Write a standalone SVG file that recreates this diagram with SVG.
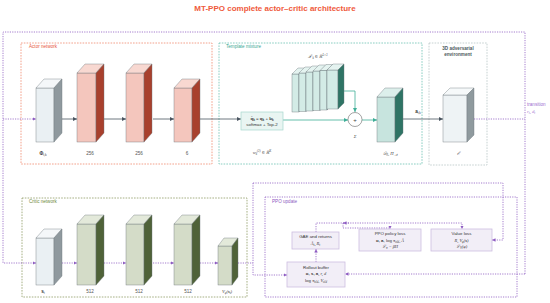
<svg xmlns="http://www.w3.org/2000/svg" width="550" height="303" viewBox="0 0 550 303">
<defs>
<style>
.t{font-family:"Liberation Sans",Arial,sans-serif}
.m{font-family:"Liberation Serif","DejaVu Serif",serif;font-style:italic}
.lbl{font-size:4.6px;fill:#555}
.grp{fill:none;stroke-width:0.8;stroke-dasharray:1.6 1.2}
.pd{fill:none;stroke:#8e5cc2;stroke-width:0.8;stroke-dasharray:1.2 1.2}
.gs{fill:none;stroke:#4a5560;stroke-width:0.8}
.ts{fill:none;stroke:#3fae98;stroke-width:0.8}
.edge{stroke:#6d767b;stroke-width:0.4}
.pbox{fill:#f2eef7;stroke:#cdbde0;stroke-width:0.8}
</style>
<marker id="ag" viewBox="0 0 6 6" refX="6" refY="3" markerWidth="4" markerHeight="4" orient="auto" markerUnits="userSpaceOnUse"><path d="M0,0 L6,3 L0,6 z" fill="#4a5560"/></marker>
<marker id="at" viewBox="0 0 6 6" refX="6" refY="3" markerWidth="4" markerHeight="4" orient="auto" markerUnits="userSpaceOnUse"><path d="M0,0 L6,3 L0,6 z" fill="#3fae98"/></marker>
<marker id="ap" viewBox="0 0 6 6" refX="6" refY="3" markerWidth="3.5" markerHeight="3.5" orient="auto" markerUnits="userSpaceOnUse"><path d="M0,0 L6,3 L0,6 z" fill="#8e5cc2"/></marker>
</defs>
<rect width="550" height="303" fill="#ffffff"/>
<text class="t" x="275" y="11" text-anchor="middle" font-size="8" font-weight="bold" fill="#ef5a3c">MT-PPO complete actor–critic architecture</text>

<!-- group boxes -->
<g id="actor-network">
<rect class="grp" x="21" y="43" width="191" height="121" stroke="#f08a70"/>
<text class="t" x="29" y="48" font-size="4.6" fill="#e8553a">Actor network</text>
</g>
<g id="template-mixture">
<rect class="grp" x="219" y="43" width="203" height="121" stroke="#6cc2b2"/>
<text class="t" x="226" y="48" font-size="4.6" fill="#3aa893">Template mixture</text>
</g>
<g id="environment-box">
<rect class="grp" x="429" y="43" width="58" height="122" stroke="#b9c6c6"/>
<text class="t" x="458" y="50" font-size="4.6" font-weight="bold" fill="#4d5a5c" text-anchor="middle">3D adversarial</text>
<text class="t" x="458" y="56" font-size="4.6" font-weight="bold" fill="#4d5a5c" text-anchor="middle">environment</text>
</g>
<g id="critic-network">
<rect class="grp" x="22" y="198" width="225" height="99" stroke="#8f9c66"/>
<text class="t" x="29" y="203" font-size="4.6" fill="#6f8a3c">Critic network</text>
</g>
<g id="ppo-update">
<rect class="pd" x="265" y="197" width="252" height="100"/>
<text class="t" x="272" y="203" font-size="4.6" fill="#8e5cc2">PPO update</text>
</g>

<!-- connectors -->
<g id="connectors">
<path class="gs" d="M62,119 H77" marker-end="url(#ag)"/>
<path class="gs" d="M104,119 H126" marker-end="url(#ag)"/>
<path class="gs" d="M153,119 H174" marker-end="url(#ag)"/>
<path class="gs" d="M200,119 H241" marker-end="url(#ag)"/>
<path class="ts" d="M283,120 H348" marker-end="url(#at)"/>
<path class="ts" d="M344,91 H355 V112" marker-end="url(#at)"/>
<path class="ts" d="M362,120 H377" marker-end="url(#at)"/>
<path class="gs" d="M403,119 H443" marker-end="url(#ag)"/>
<path class="pd" d="M474,119 H525"/>
<path class="pd" d="M525,274 V32 H3 V263 H36" marker-end="url(#ap)"/>
<path class="pd" d="M3,119 H36" marker-end="url(#ap)"/>
<path class="pd" d="M525,274 H345" marker-end="url(#ap)"/>
<path class="pd" d="M62,263 H77" marker-end="url(#ap)"/>
<path class="pd" d="M104,263 H126" marker-end="url(#ap)"/>
<path class="pd" d="M153,263 H174" marker-end="url(#ap)"/>
<path class="pd" d="M200,263 H218" marker-end="url(#ap)"/>
<path class="pd" d="M238,263 H253"/>
<path class="pd" d="M253,183 V275 H287" marker-end="url(#ap)"/>
<path class="pd" d="M253,183 H503 V240 H492" marker-end="url(#ap)"/>
<path class="pd" d="M316,262 V249" marker-end="url(#ap)"/>
<path class="pd" d="M316,232 V223 H462 V229" marker-end="url(#ap)"/>
<path class="pd" d="M343,223 V228 H390 V229" marker-end="url(#ap)"/>
<path class="pd" d="M349,223 H343" marker-end="url(#ap)"/>
</g>
<text class="t" x="527" y="106" font-size="4.6" fill="#9b6fd0">transition</text>
<text class="m" x="527" y="113" font-size="4.6" fill="#9b6fd0">r<tspan font-size="3.2" dy="1">t</tspan><tspan dy="-1">, d</tspan><tspan font-size="3.2" dy="1">t</tspan></text>

<!-- actor blocks -->
<g id="actor-input">
<rect x="36" y="88" width="18" height="54" fill="#eaf0f3" class="edge"/>
<polygon points="36,88 44,79 62,79 54,88" fill="#f4f7f9" class="edge"/>
<polygon points="54,88 62,79 62,133 54,142" fill="#8f999e" class="edge"/>
<text class="t" x="43" y="155" font-size="4.6" fill="#333" text-anchor="middle" font-weight="bold">Φ<tspan font-size="3.2" dy="1" font-weight="normal">t,k</tspan></text>
</g>
<g id="actor-fc1">
<rect x="77" y="73" width="19" height="69" fill="#f4c6bd" class="edge"/>
<polygon points="77,73 85,64 104,64 96,73" fill="#f8d8d1" class="edge"/>
<polygon points="96,73 104,64 104,133 96,142" fill="#a8402d" class="edge"/>
<text class="t" x="90" y="155" font-size="4.6" fill="#555" text-anchor="middle">256</text>
</g>
<g id="actor-fc2">
<rect x="126" y="73" width="18" height="69" fill="#f4c6bd" class="edge"/>
<polygon points="126,73 134,64 152,64 144,73" fill="#f8d8d1" class="edge"/>
<polygon points="144,73 152,64 152,133 144,142" fill="#a8402d" class="edge"/>
<text class="t" x="139" y="155" font-size="4.6" fill="#555" text-anchor="middle">256</text>
</g>
<g id="actor-out">
<rect x="174" y="88" width="18" height="54" fill="#f4c6bd" class="edge"/>
<polygon points="174,88 182,79 200,79 192,88" fill="#f8d8d1" class="edge"/>
<polygon points="192,88 200,79 200,133 192,142" fill="#a8402d" class="edge"/>
<text class="t" x="187" y="155" font-size="4.6" fill="#555" text-anchor="middle">6</text>
</g>

<!-- template mixture -->
<g id="softmax">
<rect x="241" y="112" width="42" height="18" fill="#e9f5f2" stroke="#a6d8cd" stroke-width="0.7"/>
<text class="t" x="262" y="119.5" font-size="4.4" fill="#333" text-anchor="middle" font-weight="bold">q̂<tspan font-size="3" dy="1">k</tspan><tspan dy="-1" font-weight="normal"> = </tspan>q<tspan font-size="3" dy="1">k</tspan><tspan dy="-1" font-weight="normal"> + </tspan>b<tspan font-size="3" dy="1">k</tspan></text>
<text class="t" x="262" y="126" font-size="4.4" fill="#333" text-anchor="middle">softmax + Top-2</text>
<text class="m" x="262" y="154" font-size="4.6" fill="#444" text-anchor="middle">w<tspan font-size="3" dy="1">k</tspan><tspan font-size="3" dy="-3">(2)</tspan><tspan dy="2"> ∈ ℝ</tspan><tspan font-size="3" dy="-2">K</tspan></text>
</g>
<g id="templates">
<g fill="#d3ebe6" class="edge">
<rect x="292" y="74" width="7" height="38"/>
<polygon points="292,74 298,68 305,68 299,74" fill="#e4f3f0"/>
<polygon points="299,74 305,68 305,106 299,112" fill="#5f9e92"/>
<rect x="299" y="73" width="7" height="38.5"/>
<polygon points="299,73 305,67 312,67 306,73" fill="#e4f3f0"/>
<polygon points="306,73 312,67 312,105 306,111.5" fill="#5f9e92"/>
<rect x="306" y="72" width="7" height="39"/>
<polygon points="306,72 312,66 319,66 313,72" fill="#e4f3f0"/>
<polygon points="313,72 319,66 319,104 313,111" fill="#5f9e92"/>
<rect x="313" y="71" width="7" height="39.5"/>
<polygon points="313,71 319,65 326,65 320,71" fill="#e4f3f0"/>
<polygon points="320,71 326,65 326,104 320,110.5" fill="#5f9e92"/>
<rect x="320" y="70.5" width="7" height="39.5"/>
<polygon points="320,70.5 326,64.5 333,64.5 327,70.5" fill="#e4f3f0"/>
<polygon points="327,70.5 333,64.5 333,103 327,110" fill="#5f9e92"/>
<rect x="327" y="70" width="11" height="39"/>
<polygon points="327,70 333,64 344,64 338,70" fill="#e4f3f0"/>
<polygon points="338,70 344,64 344,103 338,109" fill="#2f7465"/>
</g>
<text class="m" x="318" y="58" font-size="4.6" fill="#444" text-anchor="middle">𝒯<tspan font-size="3" dy="1">k</tspan><tspan dy="-1"> ∈ ℝ</tspan><tspan font-size="3" dy="-2">L×3</tspan></text>
</g>
<g id="sum">
<circle cx="355" cy="119.5" r="7" fill="#ffffff" stroke="#666" stroke-width="0.6"/>
<text class="t" x="355" y="121.5" font-size="6" fill="#444" text-anchor="middle">+</text>
<text class="m" x="355" y="138" font-size="4.6" fill="#444" text-anchor="middle">Σ</text>
</g>
<g id="mixed-output">
<rect x="377" y="97" width="18" height="45" fill="#c7e4de" class="edge"/>
<polygon points="377,97 385,88 403,88 395,97" fill="#dcefeb" class="edge"/>
<polygon points="395,97 403,88 403,133 395,142" fill="#2f7465" class="edge"/>
<text class="m" x="390" y="155" font-size="4.6" fill="#444" text-anchor="middle">𝒟<tspan font-size="3" dy="1">θ</tspan><tspan dy="-1">, Π</tspan><tspan font-size="3" dy="1">𝒜t</tspan></text>
<text class="t" x="418" y="113" font-size="4.6" fill="#333" text-anchor="middle" font-weight="bold">a<tspan font-size="3" dy="1" font-weight="normal">t,k</tspan></text>
</g>
<g id="environment">
<rect x="443" y="95" width="24" height="47" fill="#eef3f5" class="edge"/>
<polygon points="443,95 450,88 474,88 467,95" fill="#f6f9fa" class="edge"/>
<polygon points="467,95 474,88 474,135 467,142" fill="#8f9a9e" class="edge"/>
<text class="m" x="458" y="155" font-size="4.8" fill="#444" text-anchor="middle">ℰ</text>
</g>

<!-- critic blocks -->
<g id="critic-input">
<rect x="36" y="238" width="18" height="47" fill="#eaf0f3" class="edge"/>
<polygon points="36,238 44,229 62,229 54,238" fill="#f4f7f9" class="edge"/>
<polygon points="54,238 62,229 62,276 54,285" fill="#8f999e" class="edge"/>
<text class="t" x="43" y="293" font-size="4.6" fill="#333" text-anchor="middle" font-weight="bold">s<tspan font-size="3.2" dy="1" font-weight="normal">t</tspan></text>
</g>
<g id="critic-fc1">
<rect x="77" y="224" width="19" height="61" fill="#d4dcc8" class="edge"/>
<polygon points="77,224 85,215 104,215 96,224" fill="#e3e9da" class="edge"/>
<polygon points="96,224 104,215 104,276 96,285" fill="#4f6238" class="edge"/>
<text class="t" x="90" y="293" font-size="4.6" fill="#555" text-anchor="middle">512</text>
</g>
<g id="critic-fc2">
<rect x="126" y="224" width="18" height="61" fill="#d4dcc8" class="edge"/>
<polygon points="126,224 134,215 152,215 144,224" fill="#e3e9da" class="edge"/>
<polygon points="144,224 152,215 152,276 144,285" fill="#4f6238" class="edge"/>
<text class="t" x="139" y="293" font-size="4.6" fill="#555" text-anchor="middle">512</text>
</g>
<g id="critic-fc3">
<rect x="174" y="224" width="18" height="61" fill="#d4dcc8" class="edge"/>
<polygon points="174,224 182,215 200,215 192,224" fill="#e3e9da" class="edge"/>
<polygon points="192,224 200,215 200,276 192,285" fill="#4f6238" class="edge"/>
<text class="t" x="188" y="293" font-size="4.6" fill="#555" text-anchor="middle">512</text>
</g>
<g id="critic-value">
<rect x="218" y="246" width="14" height="39" fill="#d4dcc8" class="edge"/>
<polygon points="218,246 224,238 238,238 232,246" fill="#e3e9da" class="edge"/>
<polygon points="232,246 238,238 238,277 232,285" fill="#4f6238" class="edge"/>
<text class="m" x="227" y="293" font-size="4.6" fill="#444" text-anchor="middle">V<tspan font-size="3" dy="1">φ</tspan><tspan dy="-1">(</tspan><tspan font-style="normal" font-weight="bold">s</tspan><tspan font-size="3" dy="1">t</tspan><tspan dy="-1">)</tspan></text>
</g>

<!-- PPO update boxes -->
<g id="rollout-buffer">
<rect class="pbox" x="287" y="262" width="58" height="25"/>
<text class="t" x="316" y="268.5" font-size="4.4" fill="#333" text-anchor="middle">Rollout buffer</text>
<text class="t" x="316" y="275" font-size="4.4" fill="#333" text-anchor="middle"><tspan font-weight="bold">o, s, a</tspan><tspan class="m">, r, d</tspan></text>
<text class="t" x="316" y="282" font-size="4.4" fill="#333" text-anchor="middle">log <tspan class="m">π<tspan font-size="3" dy="1">old</tspan><tspan dy="-1">, V</tspan><tspan font-size="3" dy="1">old</tspan></tspan></text>
</g>
<g id="gae">
<rect class="pbox" x="292" y="232" width="47" height="17"/>
<text class="t" x="315.5" y="238" font-size="4.4" fill="#333" text-anchor="middle">GAE and returns</text>
<text class="m" x="315.5" y="245" font-size="4.4" fill="#333" text-anchor="middle">Â<tspan font-size="3" dy="1">t</tspan><tspan dy="-1">, R</tspan><tspan font-size="3" dy="1">t</tspan></text>
</g>
<g id="policy-loss">
<rect class="pbox" x="359" y="229" width="62" height="22"/>
<text class="t" x="390" y="235" font-size="4.4" fill="#333" text-anchor="middle">PPO policy loss</text>
<text class="t" x="390" y="241.5" font-size="4.4" fill="#333" text-anchor="middle"><tspan font-weight="bold">o, a</tspan>, log <tspan class="m">π<tspan font-size="3" dy="1">old</tspan><tspan dy="-1">, Â</tspan></tspan></text>
<text class="m" x="390" y="248" font-size="4.4" fill="#333" text-anchor="middle">ℒ<tspan font-size="3" dy="1">π</tspan><tspan dy="-1"> − βH</tspan></text>
</g>
<g id="value-loss">
<rect class="pbox" x="431" y="229" width="61" height="22"/>
<text class="t" x="461.5" y="235" font-size="4.4" fill="#333" text-anchor="middle">Value loss</text>
<text class="m" x="461.5" y="241.5" font-size="4.4" fill="#333" text-anchor="middle">R, V<tspan font-size="3" dy="1">φ</tspan><tspan dy="-1">(</tspan><tspan font-style="normal" font-weight="bold">s</tspan>)</text>
<text class="m" x="461.5" y="248" font-size="4.4" fill="#333" text-anchor="middle">ℒ<tspan font-size="3" dy="1">V</tspan><tspan dy="-1">(φ)</tspan></text>
</g>
</svg>
